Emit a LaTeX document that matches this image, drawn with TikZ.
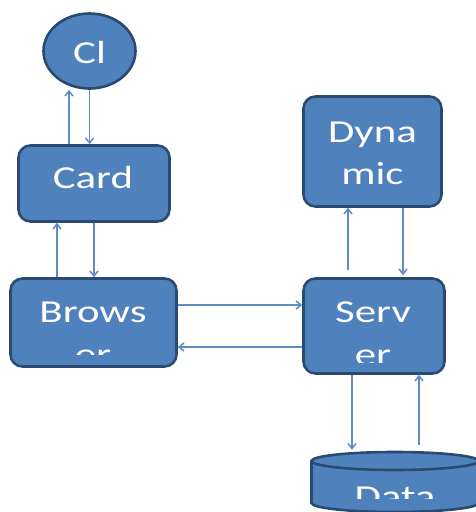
\documentclass[tikz,border=0pt]{standalone}
\usepackage{fontspec}
\newfontfamily\boxfont[FakeStretch=1.34]{Carlito}
\usetikzlibrary{arrows.meta,shapes.geometric}
\definecolor{boxfill}{HTML}{4F81BD}
\definecolor{boxline}{HTML}{2A4A70}
\definecolor{arrcol}{HTML}{5F8CC6}
\tikzset{
  box/.style={draw=boxline, fill=boxfill, line width=2.6pt, rounded corners=12pt, inner sep=0pt},
  txt/.style={text=white, inner sep=0pt, anchor=base, font=\boxfont\fontsize{32}{38}\selectfont},
  arr/.style={draw=arrcol, line width=1.5pt, -{Straight Barb[length=5pt,width=8pt]}},
}
\begin{document}
\begin{tikzpicture}[x=1pt,y=-1pt]
\useasboundingbox (0,0) rectangle (476,512);
\clip (0,0) rectangle (476,512);
% Cl ellipse
\node[draw=boxline, fill=boxfill, line width=2.6pt, ellipse, minimum width=92pt, minimum height=75pt, inner sep=0pt] (cl) at (89.5,51) {};
\node[txt] (clT) at (89.5,63) {Cl};
% Card
\node[box, minimum width=151pt, minimum height=76pt] (card) at (94,183.5) {};
\node[txt] (cardT) at (93,188) {Card};
% Browser
\node[box, minimum width=166pt, minimum height=88pt] (browser) at (93.5,322.5) {};
\begin{scope}
\clip (0,270) rectangle (200,354);
\node[txt] (browserT1) at (93,322) {Brows};
\node[txt] (browserT2) at (93,365) {er};
\end{scope}
% Server
\node[box, minimum width=141pt, minimum height=95pt] (server) at (374,326) {};
\begin{scope}
\clip (290,270) rectangle (460,362);
\node[txt] (serverT1) at (373,322) {Serv};
\node[txt] (serverT2) at (373,365) {er};
\end{scope}
% Dynamic
\node[box, minimum width=138pt, minimum height=110pt] (dyn) at (372.5,151.5) {};
\node[txt] (dynT1) at (372.5,142) {Dyna};
\node[txt] (dynT2) at (372.5,184) {mic};
% Data cylinder
\node[minimum width=170pt, minimum height=60pt, inner sep=0pt] (data) at (395,482) {};
\fill[boxfill] (395,461) ellipse[x radius=83.5, y radius=9];
\fill[boxfill] (311.5,461) -- (311.5,503) arc[start angle=180, end angle=0, x radius=83.5, y radius=9] -- (478.5,461) -- cycle;
\draw[boxline, line width=2.6pt] (311.5,461) -- (311.5,503) arc[start angle=180, end angle=0, x radius=83.5, y radius=9] -- (478.5,461);
\draw[boxline, line width=2.6pt] (395,461) ellipse[x radius=83.5, y radius=9];
\begin{scope}
\clip (300,472) rectangle (476,498);
\node[txt] (dataT) at (395,507) {Data};
\end{scope}
% connectors
\draw[arr] ([xshift=-25pt]card.north) -- ([xshift=-25pt]card.north |- cl.south);
\draw[arr] (cl.south) -- (cl.south |- card.north);
\draw[arr] ([xshift=-36.5pt]browser.north) -- ([xshift=-36.5pt]browser.north |- card.south);
\draw[arr] (card.south) -- (card.south |- browser.north);
\draw[arr] ([yshift=17.5pt]browser.east) -- ([yshift=17.5pt]browser.east -| server.west);
\draw[arr] ([yshift=-21pt]server.west) -- ([yshift=-21pt]server.west -| browser.east);
\draw[arr] ([xshift=-26pt,yshift=7pt]server.north) -- ([xshift=-26pt]server.north |- dyn.south);
\draw[arr] ([xshift=30.5pt]dyn.south) -- ([xshift=30.5pt,yshift=2pt]dyn.south |- server.north);
\draw[arr] ([xshift=-22pt]server.south) -- ([xshift=-22pt,yshift=2pt]server.south |- data.north);
\draw[arr] ([xshift=45pt,yshift=7pt]server.south |- data.north) -- ([xshift=45pt]server.south);
\end{tikzpicture}
\end{document}
